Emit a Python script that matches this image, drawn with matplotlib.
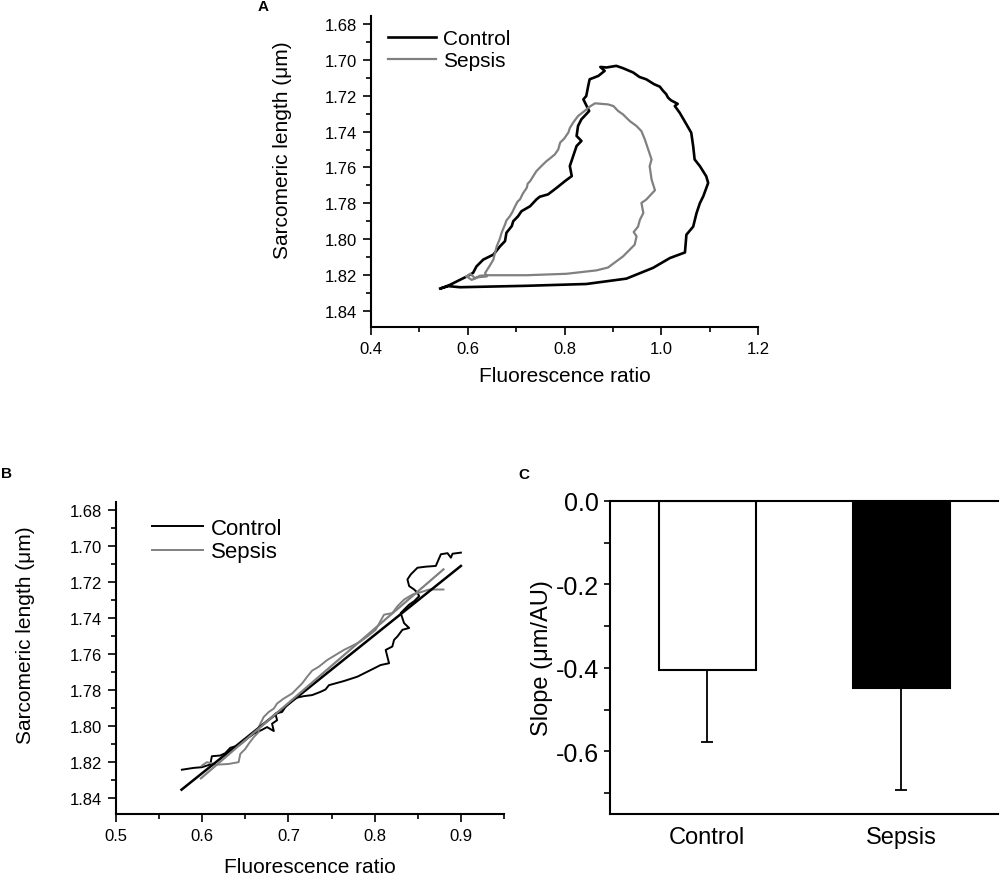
import numpy as np
import matplotlib
matplotlib.use("Agg")
import matplotlib.pyplot as plt
from matplotlib.ticker import FixedLocator, FormatStrFormatter

plt.rcParams['font.family'] = ['Liberation Sans', 'DejaVu Sans']
plt.rcParams['axes.unicode_minus'] = False

# ---- data ----
# panel A: full loops (fluorescence ratio, sarcomere length)
ctrl_loop = np.array([
    [0.543, 1.8275], [0.560, 1.8262], [0.584, 1.8268], [0.722, 1.8260],
    [0.845, 1.8250], [0.928, 1.8220], [0.983, 1.8160], [1.018, 1.8105],
    [1.049, 1.8074], [1.052, 1.7975], [1.066, 1.7930], [1.073, 1.7854],
    [1.080, 1.7798], [1.087, 1.7760], [1.097, 1.7686], [1.093, 1.7649],
    [1.080, 1.7593], [1.069, 1.7555], [1.066, 1.7481], [1.062, 1.7406],
    [1.052, 1.7359], [1.038, 1.7294], [1.028, 1.7257], [1.034, 1.7245],
    [1.020, 1.7225], [1.014, 1.7210], [1.010, 1.7190], [1.004, 1.7173],
    [0.997, 1.7149], [0.985, 1.7135], [0.969, 1.7108], [0.955, 1.7095],
    [0.942, 1.7070], [0.921, 1.7046], [0.907, 1.7033], [0.887, 1.7042],
    [0.874, 1.7039], [0.883, 1.7061], [0.870, 1.7089], [0.852, 1.7108],
    [0.849, 1.7145], [0.845, 1.7201], [0.839, 1.7220], [0.851, 1.7285],
    [0.835, 1.7331], [0.828, 1.7368], [0.825, 1.7424], [0.835, 1.7452],
    [0.825, 1.7480], [0.818, 1.7536], [0.811, 1.7592], [0.815, 1.7648],
    [0.801, 1.7676], [0.784, 1.7713], [0.766, 1.7750], [0.749, 1.7763],
    [0.742, 1.7778], [0.729, 1.7816], [0.711, 1.7844], [0.704, 1.7872],
    [0.694, 1.7900], [0.691, 1.7927], [0.680, 1.7964], [0.677, 1.8011],
    [0.667, 1.8039], [0.653, 1.8086], [0.632, 1.8114], [0.618, 1.8152],
    [0.611, 1.8188], [0.598, 1.8208], [0.577, 1.8236], [0.563, 1.8255],
    [0.546, 1.8273],
])
seps_loop = np.array([
    [0.598, 1.8208], [0.605, 1.8193], [0.615, 1.8217], [0.625, 1.8204],
    [0.639, 1.8201], [0.722, 1.8201], [0.804, 1.8193], [0.866, 1.8174],
    [0.890, 1.8158], [0.921, 1.8096], [0.945, 1.8031], [0.949, 1.7984],
    [0.943, 1.7960], [0.952, 1.7930], [0.956, 1.7891], [0.963, 1.7854],
    [0.959, 1.7798], [0.969, 1.7779], [0.987, 1.7727], [0.980, 1.7667],
    [0.976, 1.7593], [0.980, 1.7555], [0.973, 1.7499], [0.966, 1.7443],
    [0.959, 1.7397], [0.949, 1.7369], [0.935, 1.7341], [0.921, 1.7304],
    [0.911, 1.7285], [0.901, 1.7257], [0.890, 1.7248], [0.863, 1.7242],
    [0.849, 1.7266], [0.846, 1.7275], [0.828, 1.7313], [0.818, 1.7349],
    [0.811, 1.7380], [0.808, 1.7405], [0.799, 1.7440], [0.791, 1.7461],
    [0.787, 1.7500], [0.780, 1.7527], [0.772, 1.7545], [0.763, 1.7564],
    [0.753, 1.7590], [0.742, 1.7620], [0.735, 1.7650], [0.729, 1.7676],
    [0.724, 1.7690], [0.722, 1.7713], [0.714, 1.7745], [0.708, 1.7778],
    [0.703, 1.7790], [0.698, 1.7816], [0.692, 1.7850], [0.687, 1.7872],
    [0.680, 1.7895], [0.677, 1.7918], [0.670, 1.7964], [0.666, 1.8000],
    [0.660, 1.8039], [0.656, 1.8080], [0.653, 1.8114], [0.645, 1.8150],
    [0.636, 1.8188], [0.639, 1.8208], [0.622, 1.8212], [0.608, 1.8227],
    [0.598, 1.8208],
])

# panel B: relaxation phase and linear fits
ctrl_relax = np.array([
    [0.5764, 1.8244], [0.5899, 1.8234], [0.5996, 1.8230], [0.6093, 1.8215],
    [0.6112, 1.8169], [0.6209, 1.8165], [0.6267, 1.8152], [0.6326, 1.8122],
    [0.6422, 1.8109], [0.6461, 1.8096], [0.6519, 1.8072], [0.6597, 1.8044],
    [0.6694, 1.8022], [0.6752, 1.8007], [0.6830, 1.8029], [0.6810, 1.7988],
    [0.6868, 1.7969], [0.6849, 1.7932], [0.6926, 1.7923], [0.6965, 1.7895],
    [0.7043, 1.7857], [0.7101, 1.7843], [0.7178, 1.7835], [0.7275, 1.7829],
    [0.7372, 1.7811], [0.7430, 1.7798], [0.7469, 1.7774], [0.7643, 1.7751],
    [0.7798, 1.7727], [0.7953, 1.7690], [0.8069, 1.7662], [0.8167, 1.7652],
    [0.8147, 1.7615], [0.8128, 1.7578], [0.8205, 1.7559], [0.8225, 1.7522],
    [0.8264, 1.7503], [0.8322, 1.7466], [0.8400, 1.7456], [0.8341, 1.7429],
    [0.8302, 1.7373], [0.8341, 1.7354], [0.8400, 1.7326], [0.8458, 1.7307],
    [0.8516, 1.7279], [0.8496, 1.7260], [0.8458, 1.7242], [0.8400, 1.7223],
    [0.8380, 1.7186], [0.8419, 1.7158], [0.8496, 1.7121], [0.8593, 1.7115],
    [0.8709, 1.7111], [0.8768, 1.7046], [0.8845, 1.7040], [0.8884, 1.7065],
    [0.8903, 1.7043], [0.9000, 1.7037],
])
seps_relax = np.array([
    [0.5996, 1.8221], [0.6054, 1.8202], [0.6171, 1.8216], [0.6306, 1.8212],
    [0.6422, 1.8202], [0.6442, 1.8156], [0.6500, 1.8128], [0.6539, 1.8100],
    [0.6597, 1.8063], [0.6655, 1.8035], [0.6655, 1.8007], [0.6713, 1.7951],
    [0.6771, 1.7923], [0.6830, 1.7904], [0.6868, 1.7876], [0.6946, 1.7848],
    [0.7043, 1.7820], [0.7101, 1.7792], [0.7159, 1.7764], [0.7217, 1.7727],
    [0.7275, 1.7693], [0.7353, 1.7671], [0.7450, 1.7634], [0.7546, 1.7606],
    [0.7643, 1.7578], [0.7740, 1.7555], [0.7837, 1.7531], [0.7915, 1.7503],
    [0.8012, 1.7466], [0.8108, 1.7382], [0.8205, 1.7373], [0.8264, 1.7335],
    [0.8341, 1.7298], [0.8438, 1.7270], [0.8535, 1.7257], [0.8632, 1.7242],
    [0.8798, 1.7242],
])
ctrl_fit_x = [0.576, 0.900]
ctrl_fit_y = [1.8355, 1.7111]
seps_fit_x = [0.5985, 0.8798]
seps_fit_y = [1.8292, 1.7130]

# panel C: slopes
groups = ['Control', 'Sepsis']
slope_mean = [-0.405, -0.448]
slope_err = [0.172, 0.244]

GRAY = '#808080'

fig = plt.figure(figsize=(10, 8.78), dpi=100)


def style_trace_axes(ax, xlim, xmajor, xminor):
    ax.set_xlim(*xlim)
    ax.set_ylim(1.849, 1.6755)
    ax.xaxis.set_major_locator(FixedLocator(xmajor))
    ax.xaxis.set_minor_locator(FixedLocator(xminor))
    ax.xaxis.set_major_formatter(FormatStrFormatter('%.1f'))
    ax.yaxis.set_major_locator(FixedLocator(np.arange(1.68, 1.841, 0.02)))
    ax.yaxis.set_minor_locator(FixedLocator(np.arange(1.69, 1.85, 0.02)))
    ax.yaxis.set_major_formatter(FormatStrFormatter('%.2f'))
    for s in ('top', 'right'):
        ax.spines[s].set_visible(False)
    for s in ('left', 'bottom'):
        ax.spines[s].set_linewidth(1.5)
    ax.tick_params(which='major', direction='out', length=6, width=1.2,
                   labelsize=12, pad=4)
    ax.tick_params(which='minor', direction='out', length=3.5, width=1.2)
    ax.set_xlabel('Fluorescence ratio', fontsize=15)
    ax.set_ylabel('Sarcomeric length (\u03bcm)', fontsize=15)


# ---- A ----
axA = fig.add_axes([0.371, 0.6264, 0.387, 0.3542])
axA.plot(ctrl_loop[:, 0], ctrl_loop[:, 1], color='black', lw=1.9, label='Control')
axA.plot(seps_loop[:, 0], seps_loop[:, 1], color=GRAY, lw=1.6, label='Sepsis')
style_trace_axes(axA, (0.4, 1.2), np.arange(0.4, 1.21, 0.2), np.arange(0.5, 1.2, 0.2))
axA.yaxis.set_label_coords(-0.204, 0.572)
axA.xaxis.set_label_coords(0.5, -0.125)
axA.legend(loc='upper left', bbox_to_anchor=(0.044, 0.958), frameon=False,
           fontsize=15, handlelength=2.3, handletextpad=0.35, labelspacing=0.15,
           borderpad=0, borderaxespad=0)

# ---- B ----
axB = fig.add_axes([0.116, 0.0718, 0.388, 0.3554])
axB.plot(ctrl_relax[:, 0], ctrl_relax[:, 1], color='black', lw=1.4, label='Control')
axB.plot(seps_relax[:, 0], seps_relax[:, 1], color=GRAY, lw=1.4, label='Sepsis')
axB.plot(ctrl_fit_x, ctrl_fit_y, color='black', lw=1.8)
axB.plot(seps_fit_x, seps_fit_y, color=GRAY, lw=1.6)
style_trace_axes(axB, (0.5, 0.95), np.arange(0.5, 0.91, 0.1), np.arange(0.55, 0.96, 0.1))
axB.yaxis.set_label_coords(-0.209, 0.577)
axB.xaxis.set_label_coords(0.5, -0.138)
axB.legend(loc='upper left', bbox_to_anchor=(0.093, 0.948), frameon=False,
           fontsize=16, handlelength=2.3, handletextpad=0.35, labelspacing=0.1,
           borderpad=0, borderaxespad=0)

# ---- C ----
axC = fig.add_axes([0.61, 0.0718, 0.388, 0.3565])
xpos = np.arange(1, len(groups) + 1)
axC.bar(xpos, slope_mean, width=0.5, color=['white', 'black'],
        edgecolor='black', linewidth=1.5, zorder=2)
axC.errorbar(xpos, slope_mean, yerr=[slope_err, [0, 0]], fmt='none',
             ecolor='black', elinewidth=1.3, capsize=4, capthick=1.3, zorder=3)
axC.set_xlim(0.5, 2.5)
axC.set_ylim(-0.75, 0)
axC.set_xticks(xpos)
axC.set_xticklabels(groups, fontsize=17)
axC.yaxis.set_major_locator(FixedLocator([0, -0.2, -0.4, -0.6]))
axC.yaxis.set_minor_locator(FixedLocator([-0.1, -0.3, -0.5, -0.7]))
axC.yaxis.set_major_formatter(FormatStrFormatter('%.1f'))
axC.spines['right'].set_visible(False)
for s in ('left', 'bottom', 'top'):
    axC.spines[s].set_linewidth(1.5)
axC.tick_params(axis='x', length=0, pad=9)
axC.tick_params(axis='y', which='major', direction='out', length=4, width=1.2,
                labelsize=18, pad=4)
axC.tick_params(axis='y', which='minor', direction='out', length=4, width=1.2)
axC.set_ylabel('Slope (\u03bcm/AU)', fontsize=17)
axC.yaxis.set_label_coords(-0.147, 0.5)

# panel letters
fig.text(0.263, 1 - 7 / 878, 'A', fontsize=11, fontweight='bold', ha='center', va='center')
fig.text(0.007, 1 - 474 / 878, 'B', fontsize=11, fontweight='bold', ha='center', va='center')
fig.text(0.524, 1 - 475 / 878, 'C', fontsize=11, fontweight='bold', ha='center', va='center')

fig.savefig('out.png', dpi=100)
